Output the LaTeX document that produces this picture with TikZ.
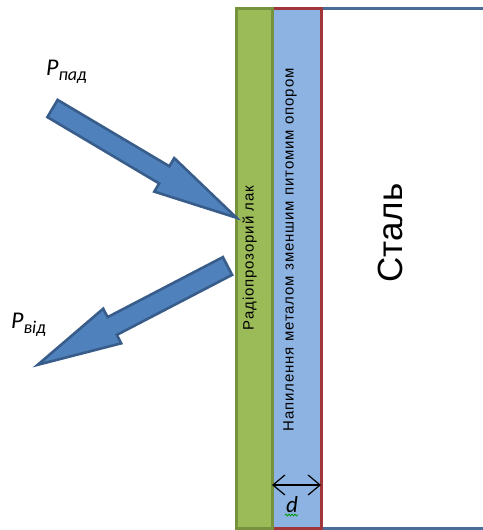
\documentclass[tikz,border=0pt]{standalone}
\usepackage{fontspec}
\setmainfont{Liberation Sans}
\newfontfamily\calibri{Carlito}
\usetikzlibrary{arrows.meta,decorations.pathmorphing}

\definecolor{lakfill}{HTML}{9BBB59}
\definecolor{lakline}{HTML}{76923C}
\definecolor{metalfill}{HTML}{8DB3E2}
\definecolor{metalline}{HTML}{A0353A}
\definecolor{steelline}{HTML}{4A6C99}
\definecolor{beamfill}{HTML}{4F81BD}
\definecolor{beamline}{HTML}{385D8A}

\tikzset{
  layer/.style={rectangle, inner sep=0pt, outer sep=0pt, anchor=north west, minimum height=520pt, line width=3pt},
  lakbox/.style={layer, fill=lakfill, draw=lakline, minimum width=36pt},
  metalbox/.style={layer, fill=metalfill, draw=metalline, minimum width=49pt},
  steelbox/.style={layer, fill=white, draw=steelline, minimum width=190pt},
  vlabel/.style={rotate=90, inner sep=0pt},
  plabel/.style={anchor=base west, inner sep=0pt, font=\calibri\itshape\fontsize{24}{24}\selectfont},
  beamstyle/.style={fill=beamfill, draw=beamline, line width=2.6pt, line join=miter},
  beam/.pic={
    \draw[beamstyle] (0,-10) -- (130,-10) -- (130,-19.5) -- (214,0)
      -- (130,19.5) -- (130,10) -- (0,10) -- cycle;
  }
}

\begin{document}
\begin{tikzpicture}[x=1pt, y=-1pt]
  \useasboundingbox (0,0) rectangle (482,530);

  % coating layers on the steel base
  \node[steelbox] (steel) at (321,8) {};
  \node[metalbox] (metal) at (272,8) {};
  \node[lakbox]   (lak)   at (236,8) {};

  % layer captions
  \node[vlabel, font=\fontsize{35}{35}\selectfont] (steeltext) at (390,233) {Сталь};
  \node[vlabel, font=\addfontfeatures{LetterSpace=6}\fontsize{15}{15}\selectfont] (laktext) at (249.5,258) {Радіопрозорий лак};
  \node[vlabel, font=\addfontfeatures{LetterSpace=6}\fontsize{15}{15}\selectfont] (metaltext) at (290,250) {Напилення металом зменшим питомим опором};

  % incident and reflected waves
  \pic[rotate=-30.7] at (52.5,108.5) {beam};
  \pic[rotate=-152.5] at (227.5,266) {beam};

  \node[plabel] (pin) at (46,75) {P\raisebox{-5pt}{\fontsize{18}{18}\selectfont пад}};
  \node[plabel] (pout) at (11,328) {P\raisebox{-5pt}{\fontsize{18}{18}\selectfont від}};

  % thickness of the sprayed layer
  \coordinate (dl) at (metal.west |- 0,485);
  \coordinate (dr) at (metal.east |- 0,485);
  \draw[{Straight Barb[length=12pt,width=20pt]}-{Straight Barb[length=12pt,width=20pt]}, line width=1.2pt] (dl) -- (dr);
  \node[inner sep=0pt, font=\calibri\itshape\fontsize{23}{23}\selectfont] (dlabel) at (292,505) {d};
  \coordinate (sq1) at (285,515);
  \draw[green!60!black, line width=0.8pt, decorate, decoration={snake, amplitude=0.9pt, segment length=3pt}]
    (sq1) -- ++(13,0);
\end{tikzpicture}
\end{document}
